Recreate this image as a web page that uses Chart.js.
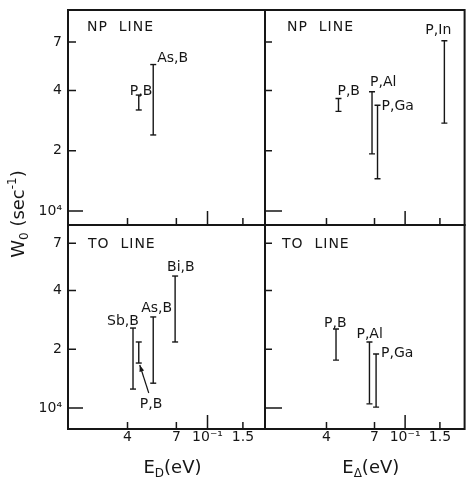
<!DOCTYPE html>
<html>
<head>
<meta charset="utf-8">
<title>W0 against impurity energy</title>
<script src="https://cdn.jsdelivr.net/npm/chart.js@4.4.1/dist/chart.umd.min.js"></script>
<style>
  html, body { margin: 0; padding: 0; background: #fff; }
  #wrap { position: relative; width: 469px; height: 478px; }
  #wrap canvas { position: absolute; left: 0; top: 0; }
</style>
</head>
<body>
<div id="wrap">
  <canvas id="npDonor" width="469" height="478"></canvas>
  <canvas id="npAcc" width="469" height="478"></canvas>
  <canvas id="toDonor" width="469" height="478"></canvas>
  <canvas id="toAcc" width="469" height="478"></canvas>
</div>
<script>
/*******************************
* DATA
********************************/

// ticks shared by all four panels (W0 in sec^-1, E in eV)
var yTicks = [1e4, 2e4, 4e4, 7e4];
var yTickLabels = ['10⁴', '2', '4', '7'];
var xTicks = [0.04, 0.07, 0.1, 0.15];
var xTickLabels = ['4', '7', '10⁻¹', '1.5'];

// NP line vs donor energy
var npDonorNames = ['P,B', 'As,B'];
var npDonorE = [0.0455, 0.0537];
var npDonorLow = [3.2e4, 2.4e4];
var npDonorHigh = [3.8e4, 5.4e4];

// NP line vs acceptor energy
var npAccNames = ['P,B', 'P,Al', 'P,Ga', 'P,In'];
var npAccE = [0.046, 0.068, 0.0725, 0.158];
var npAccLow = [3.15e4, 1.93e4, 1.45e4, 2.75e4];
var npAccHigh = [3.65e4, 3.95e4, 3.38e4, 7.1e4];

// TO line vs donor energy
var toDonorNames = ['Sb,B', 'P,B', 'As,B', 'Bi,B'];
var toDonorE = [0.0426, 0.0455, 0.0537, 0.069];
var toDonorLow = [1.25e4, 1.7e4, 1.34e4, 2.18e4];
var toDonorHigh = [2.57e4, 2.18e4, 2.93e4, 4.75e4];

// TO line vs acceptor energy
var toAccNames = ['P,B', 'P,Al', 'P,Ga'];
var toAccE = [0.0447, 0.066, 0.0713];
var toAccLow = [1.76e4, 1.05e4, 1.01e4];
var toAccHigh = [2.54e4, 2.18e4, 1.89e4];


(function(){

  var W = 469, H = 478;
  var ink = '#161616';
  var face = '"DejaVu Sans", "Liberation Sans", sans-serif';

  /*******************************
  * Panel layout
  ********************************/
  var panels = [
    { id: 'npDonor', title: 'NP  LINE', titlePos: [19, 21],
      names: npDonorNames, e: npDonorE, lo: npDonorLow, hi: npDonorHigh,
      box: [68, 10, 265, 225], xRange: [0.02023, 0.1932], yRange: [0.851e4, 1.012e5],
      yLabels: true, xLabels: false, yTickLen: [15, 8, 8, 8],
      labelPos: [[-9, 0], [4, -3]] },
    { id: 'npAcc', title: 'NP  LINE', titlePos: [22, 21],
      names: npAccNames, e: npAccE, lo: npAccLow, hi: npAccHigh,
      box: [265, 10, 468, 225], xRange: [0.01954, 0.2], yRange: [0.851e4, 1.012e5],
      yLabels: false, xLabels: false, yTickLen: [17, 7, 7, 7],
      labelPos: [[-1, -4], [-2, -6], [4, 5], [-19, -7]] },
    { id: 'toDonor', title: 'TO  LINE', titlePos: [20, 23],
      names: toDonorNames, e: toDonorE, lo: toDonorLow, hi: toDonorHigh,
      box: [68, 225, 265, 429], xRange: [0.02023, 0.1932], yRange: [0.78e4, 0.868e5],
      yLabels: true, xLabels: true, yTickLen: [15, 8, 8, 8],
      xTitle: [{ t: 'E', size: 18 }, { t: 'D', size: 12, dy: 4 }, { t: '(eV)', size: 18 }],
      yTitle: true,
      labelPos: [[-26, -3], [1, 45, 'bottom', true], [-12, -5], [-8, -5]] },
    { id: 'toAcc', title: 'TO  LINE', titlePos: [17, 23],
      names: toAccNames, e: toAccE, lo: toAccLow, hi: toAccHigh,
      box: [265, 225, 468, 429], xRange: [0.01954, 0.2], yRange: [0.78e4, 0.868e5],
      yLabels: false, xLabels: true, yTickLen: [17, 7, 7, 7],
      xTitle: [{ t: 'E', size: 18 }, { t: 'Δ', size: 12, dy: 4 }, { t: '(eV)', size: 18 }],
      labelPos: [[-12, -2], [-13, -4], [5, 3]] }
  ];
  var xTickLen = [7, 7, 14, 7];

  // draws a list of text pieces (sub/superscripts) centred at 0,0
  function richText(ctx, pieces) {
    var total = 0;
    pieces.forEach(function(p){
      ctx.font = p.size + 'px ' + face;
      total += ctx.measureText(p.t).width;
    });
    var x = -total / 2;
    ctx.textAlign = 'left';
    ctx.textBaseline = 'alphabetic';
    pieces.forEach(function(p){
      ctx.font = p.size + 'px ' + face;
      ctx.fillText(p.t, x, p.dy || 0);
      x += ctx.measureText(p.t).width;
    });
  }

  /*******************************
  * Frame, inward ticks and text
  ********************************/
  var decor = {
    id: 'panelDecor',
    afterDraw: function(chart, args, p) {
      var ctx = chart.ctx, a = chart.chartArea;
      var xs = chart.scales.x, ys = chart.scales.y;
      ctx.save();
      ctx.strokeStyle = ink;
      ctx.fillStyle = ink;

      // frame
      ctx.lineWidth = 2;
      ctx.strokeRect(a.left, a.top, a.right - a.left, a.bottom - a.top);

      // ticks pointing into the panel
      ctx.lineWidth = 1.5;
      ctx.beginPath();
      xTicks.forEach(function(v, i){
        var px = xs.getPixelForValue(v);
        ctx.moveTo(px, a.bottom);
        ctx.lineTo(px, a.bottom - xTickLen[i]);
      });
      yTicks.forEach(function(v, i){
        var py = ys.getPixelForValue(v);
        ctx.moveTo(a.left, py);
        ctx.lineTo(a.left + p.yTickLen[i], py);
      });
      ctx.stroke();

      // panel title
      ctx.font = '14px ' + face;
      ctx.letterSpacing = '1px';
      ctx.textAlign = 'left';
      ctx.textBaseline = 'alphabetic';
      ctx.fillText(p.title, a.left + p.titlePos[0], a.top + p.titlePos[1]);
      ctx.letterSpacing = '0px';

      // bar labels
      ctx.font = '14px ' + face;
      p.names.forEach(function(name, i){
        var meta = chart.getDatasetMeta(i);
        var pos = p.labelPos[i];
        var pt = pos[2] === 'bottom' ? meta.data[0] : meta.data[1];
        ctx.fillText(name, pt.x + pos[0], pt.y + pos[1]);
        if (pos[3]) {
          // arrow from the label up to the foot of the bar
          var tx = pt.x + 10, ty = pt.y + 30, hx = pt.x + 1, hy = pt.y + 2;
          var ang = Math.atan2(hy - ty, hx - tx);
          ctx.lineWidth = 1.2;
          ctx.beginPath();
          ctx.moveTo(tx, ty);
          ctx.lineTo(hx, hy);
          ctx.stroke();
          ctx.beginPath();
          ctx.moveTo(hx, hy);
          ctx.lineTo(hx - 7 * Math.cos(ang - 0.35), hy - 7 * Math.sin(ang - 0.35));
          ctx.lineTo(hx - 7 * Math.cos(ang + 0.35), hy - 7 * Math.sin(ang + 0.35));
          ctx.closePath();
          ctx.fill();
        }
      });

      // axis titles
      if (p.xTitle) {
        ctx.save();
        ctx.translate((a.left + a.right) / 2 + 6, 473);
        richText(ctx, p.xTitle);
        ctx.restore();
      }
      if (p.yTitle) {
        ctx.save();
        ctx.translate(24, 214);
        ctx.rotate(-Math.PI / 2);
        richText(ctx, [
          { t: 'W', size: 18 }, { t: '0', size: 12, dy: 4 },
          { t: ' (sec', size: 18 }, { t: '-1', size: 12, dy: -8 }, { t: ')', size: 18 }
        ]);
        ctx.restore();
      }
      ctx.restore();
    }
  };

  /*******************************
  * Build one chart per panel
  ********************************/
  function makePanel(p) {
    var datasets = p.names.map(function(name, i){
      return {
        label: name,
        data: [{ x: p.e[i], y: p.lo[i] }, { x: p.e[i], y: p.hi[i] }],
        showLine: true,
        borderColor: ink,
        borderWidth: 1.4,
        pointStyle: 'line',
        pointRadius: 3,
        pointHoverRadius: 3,
        pointBorderColor: ink,
        pointBorderWidth: 1.4
      };
    });

    return new Chart(document.getElementById(p.id), {
      type: 'scatter',
      data: { datasets: datasets },
      options: {
        responsive: false,
        animation: false,
        events: [],
        layout: {
          padding: {
            left: p.yLabels ? 0 : p.box[0],
            top: p.box[1],
            right: W - p.box[2],
            bottom: p.xLabels ? 0 : H - p.box[3]
          }
        },
        plugins: {
          legend: { display: false },
          tooltip: { enabled: false },
          panelDecor: p
        },
        scales: {
          x: {
            type: 'logarithmic',
            min: p.xRange[0], max: p.xRange[1],
            display: p.xLabels,
            grid: { display: false, drawTicks: false },
            border: { display: false },
            afterBuildTicks: function(s){ s.ticks = xTicks.map(function(v){ return { value: v }; }); },
            afterFit: function(s){
              s.paddingLeft = 0; s.paddingRight = 0;
              if (p.xLabels) s.height = H - p.box[3];
            },
            ticks: {
              autoSkip: false, maxRotation: 0, padding: 0, color: ink,
              font: { family: face, size: 14 },
              callback: function(v, i){ return xTickLabels[i]; }
            }
          },
          y: {
            type: 'logarithmic',
            min: p.yRange[0], max: p.yRange[1],
            display: p.yLabels,
            grid: { display: false, drawTicks: false },
            border: { display: false },
            afterBuildTicks: function(s){ s.ticks = yTicks.map(function(v){ return { value: v }; }); },
            afterFit: function(s){
              s.paddingTop = 0; s.paddingBottom = 0;
              if (p.yLabels) s.width = p.box[0];
            },
            ticks: {
              autoSkip: false, padding: 6, color: ink,
              font: { family: face, size: 14 },
              callback: function(v, i){ return yTickLabels[i]; }
            }
          }
        }
      },
      plugins: [decor]
    });
  }

  window.addEventListener('load', function(){
    panels.forEach(makePanel);
  });

})();
</script>
</body>
</html>
